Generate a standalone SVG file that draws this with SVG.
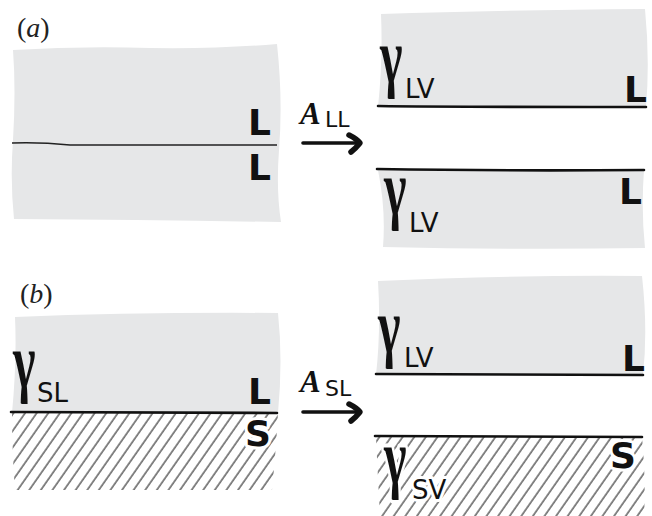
<svg xmlns="http://www.w3.org/2000/svg" width="652" height="516" viewBox="0 0 652 516">
<style>
.gray{fill:#e6e7e8;stroke:none}
.hatch{fill:url(#h);stroke:none}
.iface{fill:none;stroke:#111;stroke-width:2.6;stroke-linecap:round}
.thin{fill:none;stroke:#222;stroke-width:1.4}
.big{font-family:"DejaVu Sans",sans-serif;font-weight:bold;font-size:36px;fill:#111}
.gam{font-family:"Liberation Serif",serif;font-weight:bold;font-size:60px;fill:#111}
.sub{font-family:"DejaVu Sans",sans-serif;font-size:26px;fill:#111}
.A{font-family:"Liberation Serif",serif;font-weight:bold;font-style:italic;font-size:31px;fill:#111}
.asub{font-family:"DejaVu Sans",sans-serif;font-size:22px;fill:#111}
.panel{font-family:"Liberation Serif",serif;font-size:28px;fill:#222}
.halo{stroke:#fff;stroke-width:6;paint-order:stroke;stroke-linejoin:round}
.arr{fill:none;stroke:#111;stroke-width:3.6;stroke-linecap:round;stroke-linejoin:round}
.head{fill:none;stroke:#111;stroke-width:5.5;stroke-linecap:round;stroke-linejoin:round}
</style>
<defs>
<pattern id="h" width="9.5" height="20" patternUnits="userSpaceOnUse" patternTransform="rotate(35)">
<line x1="1" y1="0" x2="1" y2="20" stroke="#111" stroke-width="1"/>
</pattern>
</defs>
<rect width="652" height="516" fill="#fff"/>

<g id="panel-a-label"><text class="panel" x="17" y="37">(<tspan font-style="italic">a</tspan>)</text></g>
<g id="panel-b-label"><text class="panel" x="20" y="303">(<tspan font-style="italic">b</tspan>)</text></g>

<g id="a-left">
<path class="gray" d="M13,50 Q80,46 150,48 Q220,49 277,44 Q283,100 279,150 Q276,190 281,222 Q150,220 14,219 Q10,180 13,140 Q16,90 13,50 Z"/>
<path class="thin" d="M12,143 Q40,142 70,145 L277,145"/>
<text class="big" x="248" y="135">L</text>
<text class="big" x="248" y="180">L</text>
</g>

<g id="a-right-top">
<path class="gray" d="M381,14 Q500,10 645,9 Q650,60 646,107 L378,107 Q383,60 381,14 Z"/>
<path class="iface" d="M378,106 Q450,107 646,107"/>
<text class="gam" transform="translate(380,82) scale(0.8,1.3)">γ</text>
<text class="sub" x="405" y="98">LV</text>
<text class="big" x="624" y="102">L</text>
</g>

<g id="a-right-bottom">
<path class="gray" d="M378,170 L644,170 Q641,210 645,248 Q520,250 383,247 Q386,210 378,170 Z"/>
<path class="iface" d="M377,169 Q500,171 644,170"/>
<text class="gam" transform="translate(384,214) scale(0.8,1.3)">γ</text>
<text class="sub" x="409" y="232">LV</text>
<text class="big" x="619" y="204">L</text>
</g>

<g id="b-left">
<path class="gray" d="M15,317 Q140,312 278,313 Q283,360 278,413 L12,413 Q17,360 15,317 Z"/>
<path class="hatch" d="M12,413 L278,413 Q276,450 272,490 L15,490 Q12,450 12,413 Z"/>
<path class="iface" d="M11,412 Q150,413 277,413"/>
<text class="gam" transform="translate(13,387) scale(0.8,1.3)">γ</text>
<text class="sub" x="37" y="402">SL</text>
<text class="big" x="248" y="404">L</text>
<text class="big halo" x="245" y="446">S</text>
</g>

<g id="b-right-top">
<path class="gray" d="M378,281 Q500,275 642,276 Q648,330 643,375 L376,375 Q381,330 378,281 Z"/>
<path class="iface" d="M376,374 Q500,375 643,375"/>
<text class="gam" transform="translate(378,352) scale(0.8,1.3)">γ</text>
<text class="sub" x="404" y="367">LV</text>
<text class="big" x="622" y="371">L</text>
</g>

<g id="b-right-bottom">
<path class="hatch" d="M376,437 L642,437 Q646,480 644,516 L380,516 Q378,480 376,437 Z"/>
<path class="iface" d="M375,436 Q500,437 642,437"/>
<text class="gam halo" transform="translate(384,483) scale(0.8,1.3)">γ</text>
<text class="sub halo" x="412" y="499">SV</text>
<text class="big halo" x="610" y="468">S</text>
</g>

<g id="connectors">
<g id="arrow-a">
<path class="arr" d="M303,143 L356,143"/>
<path class="head" d="M349,135 Q357,139 360,143 Q356,148 351,152"/>
<text class="A" x="300" y="124">A</text>
<text class="asub" x="325" y="127">LL</text>
</g>
<g id="arrow-b">
<path class="arr" d="M303,412 L356,412"/>
<path class="head" d="M349,404 Q357,408 360,412 Q356,417 351,421"/>
<text class="A" x="300" y="392">A</text>
<text class="asub" x="325" y="396">SL</text>
</g>
</g>
</svg>
